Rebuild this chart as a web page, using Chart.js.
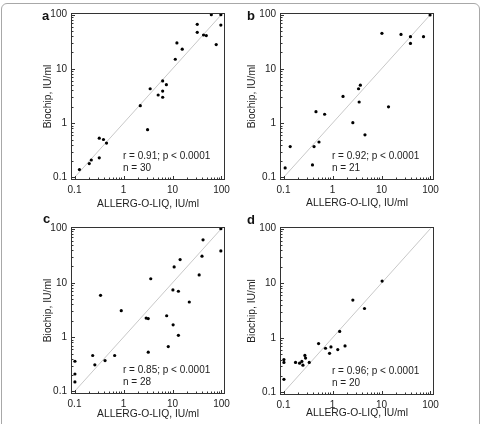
<!DOCTYPE html>
<html>
<head>
<meta charset="utf-8">
<script src="https://cdn.jsdelivr.net/npm/chart.js@4/dist/chart.umd.min.js"></script>
<style>
    html, body { margin: 0; padding: 0; background: #fff; }
    body { width: 481px; height: 424px; position: relative; overflow: hidden; }
    .frame { position: absolute; left: 1px; top: 3px; width: 477px; height: 440px; border: 1px solid #a8a8a8; border-radius: 6px; }
    canvas { position: absolute; }
</style>
</head>
<body>
<div class="frame"></div>
<canvas id="chartA" width="240" height="212" style="left:0px;top:0px;width:240px;height:212px"></canvas>
<canvas id="chartB" width="241" height="212" style="left:240px;top:0px;width:241px;height:212px"></canvas>
<canvas id="chartC" width="240" height="212" style="left:0px;top:212px;width:240px;height:212px"></canvas>
<canvas id="chartD" width="241" height="212" style="left:240px;top:212px;width:241px;height:212px"></canvas>
<script>
// 数据: ALLERG-O-LIQ (x) 与 Biochip (y), IU/ml
const aX = [0.126, 0.2, 0.22, 0.32, 0.32, 0.39, 0.45, 2.2, 3.1, 3.5, 5.1, 6.3, 6.3, 6.3, 7.5, 11.4, 12.3, 15.8, 32, 32, 43, 49, 62, 78, 97, 97];
const aY = [0.14, 0.18, 0.21, 0.23, 0.53, 0.50, 0.43, 2.1, 0.76, 4.3, 3.3, 6.0, 3.9, 3.0, 5.1, 15, 30, 23, 66, 47, 42, 41, 99, 28, 99, 64];

const bX = [0.108, 0.137, 0.39, 0.42, 0.46, 0.53, 0.69, 1.64, 2.6, 3.4, 3.7, 3.5, 4.6, 10.2, 13.9, 25, 39, 39, 72, 98];
const bY = [0.15, 0.37, 0.17, 0.37, 1.63, 0.45, 1.46, 3.1, 1.02, 4.3, 5.0, 2.45, 0.61, 45, 2.0, 43, 39, 29.4, 39, 98];

const cX = [0.102, 0.102, 0.102, 0.235, 0.26, 0.34, 0.42, 0.66, 0.9, 2.9, 3.2, 3.2, 3.6, 7.6, 8.2, 10.2, 10.3, 10.8, 13.2, 13.2, 14.3, 22, 35, 40, 42, 97, 97];
const cY = [0.36, 0.21, 0.15, 0.46, 0.31, 5.9, 0.37, 0.46, 3.07, 2.25, 2.2, 0.53, 11.9, 2.48, 0.67, 7.4, 1.69, 19.6, 7.0, 1.08, 26.8, 4.44, 14, 31, 62, 99.5, 38.7];

const dX = [0.102, 0.102, 0.102, 0.176, 0.213, 0.237, 0.249, 0.273, 0.282, 0.335, 0.52, 0.72, 0.87, 0.93, 1.28, 1.4, 1.8, 2.6, 4.5, 10.3];
const dY = [0.40, 0.355, 0.174, 0.354, 0.344, 0.37, 0.316, 0.477, 0.426, 0.354, 0.785, 0.644, 0.52, 0.68, 0.61, 1.31, 0.71, 4.9, 3.44, 10.9];

// 刻度与统计
const tickValues = [0.1, 1, 10, 100];
const statR = ['0.91', '0.92', '0.85', '0.96'];
const statN = [30, 21, 28, 20];
const letters = ['a', 'b', 'c', 'd'];
const diagonal = [{ x: 0.1, y: 0.1 }, { x: 100, y: 100 }];

const X_MIN = 0.0848, X_MAX = 117.9;
const Y_MIN = 0.0899, Y_MAX = 106.6;

const FONT = '"Liberation Sans", Arial, sans-serif';
const TEXT = '#222';

// 次刻度 (0.1..100)
const minorTicks = [];
[0.1, 1, 10].forEach(d => {
    for (let m = 1; m <= 9; m++) minorTicks.push({ v: d * m, major: m === 1 });
});
minorTicks.push({ v: 100, major: true });

// 各面板布局
const panels = [
    { id: 'chartA', xs: aX, ys: aY, yWidth: 71, padTop: 13, padRight: 15, xHeight: 32, yTitlePad: 41.8, xTitlePad: 1.5, lx: 42, ly: 16 },
    { id: 'chartB', xs: bX, ys: bY, yWidth: 40, padTop: 13, padRight: 47, xHeight: 32, yTitlePad: 6.1, xTitlePad: 2.3, lx: 7, ly: 16 },
    { id: 'chartC', xs: cX, ys: cY, yWidth: 71, padTop: 15, padRight: 15, xHeight: 30, yTitlePad: 41.8, xTitlePad: 3.3, lx: 43, ly: 7.5 },
    { id: 'chartD', xs: dX, ys: dY, yWidth: 40, padTop: 15, padRight: 47, xHeight: 29, yTitlePad: 6.1, xTitlePad: 4.5, lx: 7, ly: 8 }
];

function makeDecor(idx, p) {
    return {
        id: 'decor' + idx,
        afterDraw(chart) {
            const { ctx, chartArea: ca, scales: { x, y } } = chart;
            ctx.save();
            ctx.strokeStyle = '#333';
            ctx.lineWidth = 1;
            ctx.strokeRect(ca.left + 0.5, ca.top + 0.5, ca.right - ca.left - 1, ca.bottom - ca.top - 1);

            // 内侧刻度线
            ctx.beginPath();
            minorTicks.forEach(t => {
                const len = t.major ? 4 : 2.5;
                const px = Math.round(x.getPixelForValue(t.v)) + 0.5;
                if (px > ca.left && px < ca.right) {
                    ctx.moveTo(px, ca.bottom);
                    ctx.lineTo(px, ca.bottom - len);
                }
                const py = Math.round(y.getPixelForValue(t.v)) + 0.5;
                if (py > ca.top && py < ca.bottom) {
                    ctx.moveTo(ca.left, py);
                    ctx.lineTo(ca.left + len, py);
                }
            });
            ctx.stroke();

            // 统计文字
            ctx.fillStyle = TEXT;
            ctx.font = '10px ' + FONT;
            ctx.textAlign = 'left';
            ctx.textBaseline = 'middle';
            ctx.fillText('r = ' + statR[idx] + '; p < 0.0001', ca.left + 52, ca.bottom - 24);
            ctx.fillText('n = ' + statN[idx], ca.left + 52, ca.bottom - 12);

            // 面板字母
            ctx.fillStyle = '#111';
            ctx.font = 'bold 13px ' + FONT;
            ctx.fillText(letters[idx], p.lx, p.ly);
            ctx.restore();
        }
    };
}

panels.forEach((p, idx) => {
    const ctx = document.getElementById(p.id).getContext('2d');
    const points = p.xs.map((v, i) => ({ x: v, y: p.ys[i] }));
    new Chart(ctx, {
        type: 'scatter',
        data: {
            datasets: [{
                data: points,
                backgroundColor: '#000',
                borderWidth: 0,
                pointRadius: 1.6
            }, {
                data: diagonal,
                showLine: true,
                borderColor: '#c8c8c8',
                borderWidth: 1,
                pointRadius: 0
            }]
        },
        options: {
            responsive: false,
            devicePixelRatio: 1,
            animation: false,
            layout: { padding: { left: 0, top: p.padTop, right: p.padRight, bottom: 0 } },
            plugins: { legend: { display: false }, tooltip: { enabled: false } },
            scales: {
                x: {
                    type: 'logarithmic',
                    min: X_MIN,
                    max: X_MAX,
                    afterBuildTicks: s => { s.ticks = tickValues.map(v => ({ value: v })); },
                    afterFit: s => { s.height = p.xHeight; },
                    grid: { display: false, drawTicks: false },
                    border: { display: false },
                    ticks: {
                        callback: v => String(v),
                        font: { family: FONT, size: 10 },
                        color: TEXT,
                        padding: 4,
                        maxRotation: 0,
                        autoSkip: false
                    },
                    title: {
                        display: true,
                        text: 'ALLERG-O-LIQ, IU/ml',
                        font: { family: FONT, size: 10.3 },
                        color: TEXT,
                        padding: { top: 0, bottom: p.xTitlePad }
                    }
                },
                y: {
                    type: 'logarithmic',
                    min: Y_MIN,
                    max: Y_MAX,
                    afterBuildTicks: s => { s.ticks = tickValues.map(v => ({ value: v })); },
                    afterFit: s => { s.width = p.yWidth; },
                    grid: { display: false, drawTicks: false },
                    border: { display: false },
                    ticks: {
                        callback: v => String(v),
                        font: { family: FONT, size: 10 },
                        color: TEXT,
                        padding: 4,
                        autoSkip: false
                    },
                    title: {
                        display: true,
                        text: 'Biochip, IU/ml',
                        font: { family: FONT, size: 10.3 },
                        color: TEXT,
                        padding: { top: p.yTitlePad, bottom: 0 }
                    }
                }
            }
        },
        plugins: [makeDecor(idx, p)]
    });
});
</script>
</body>
</html>
